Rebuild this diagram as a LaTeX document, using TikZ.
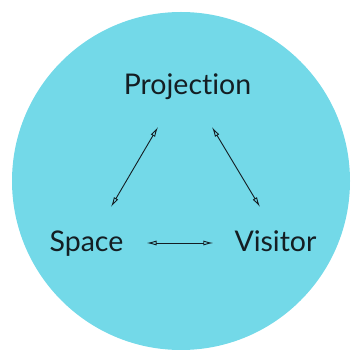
\documentclass[tikz,border=0pt]{standalone}
\usepackage{fontspec}
\setmainfont[Ligatures={NoCommon,NoRare,NoDiscretionary}]{Lato}
\usetikzlibrary{arrows.meta}
\definecolor{orbCyan}{RGB}{115,217,232}
\definecolor{orbInk} {RGB}{20,30,35}

\begin{document}
\begin{tikzpicture}[x=1pt,y=1pt,
    lbl/.style={font=\fontsize{28.5}{34}\selectfont,text=orbInk,inner sep=2pt,anchor=base},
    link/.style={orbInk,line width=0.9pt,
      {Latex[open,length=10pt,width=5pt]}-{Latex[open,length=10pt,width=5pt]}}]

    \useasboundingbox (0,0) rectangle (351,356);
    \fill[orbCyan] (181,175) circle (169);

    \node[lbl] (proj)    at (187.5,261) {Projection};
    \node[lbl] (space)   at (86.5,104)  {Space};
    \node[lbl] (visitor) at (275.5,104) {Visitor};

    \coordinate (pl) at (158,229);
    \coordinate (sl) at (111,149);
    \coordinate (pr) at (212,229);
    \coordinate (vr) at (260,149);

    \draw[link] (pl) -- (sl);
    \draw[link] (pr) -- (vr);
    \draw[link,shorten <=21pt,shorten >=19pt] (space.east |- 0,113) -- (visitor.west |- 0,113);

  \end{tikzpicture}
\end{document}
